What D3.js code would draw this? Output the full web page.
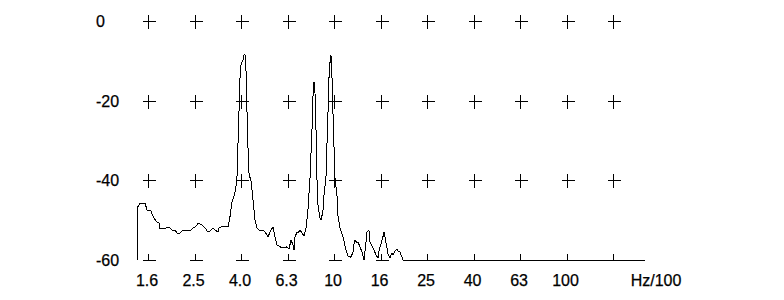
<!DOCTYPE html>
<html><head><meta charset="utf-8">
<script src="https://cdn.jsdelivr.net/npm/d3@7"></script>
<style>
body{margin:0;background:#fff}
svg{display:block;background:#fff}
text{font-family:"Liberation Sans",Arial,sans-serif;font-size:16px;fill:#000;stroke:#000;stroke-width:0.25px}
</style>
</head><body>
<svg id="chart" width="784" height="300"></svg>
<script>
// frequency in Hz/100
const freqs = [1.42,1.42,1.46,1.54,1.57,1.63,1.65,1.68,1.73,1.77,1.78,1.84,1.87,1.91,1.97,2.01,2.07,2.13,2.17,2.22,2.31,2.40,2.47,2.55,2.60,2.70,2.79,2.87,2.93,3.02,3.08,3.17,3.20,3.26,3.50,3.57,3.64,3.71,3.75,3.82,3.86,3.90,3.94,3.98,4.02,4.06,4.10,4.14,4.18,4.22,4.26,4.31,4.39,4.48,4.57,4.66,4.75,4.95,5.05,5.20,5.30,5.46,5.57,5.68,5.86,6.03,6.28,6.40,6.53,6.66,6.73,6.79,6.93,7.00,7.14,7.28,7.42,7.57,7.72,7.88,8.04,8.12,8.20,8.28,8.36,8.44,8.53,8.70,8.79,8.96,9.05,9.23,9.32,9.42,9.51,9.61,9.70,9.80,9.89,9.99,10.09,10.29,10.39,10.60,10.93,11.25,11.48,11.83,12.06,12.18,12.30,12.55,12.67,12.93,13.19,13.45,13.72,13.86,14.13,14.27,14.56,14.85,15.15,15.45,15.61,15.92,16.23,16.40,16.56,16.89,17.06,17.40,17.75,17.92,18.28,18.65,18.83,19.21,19.60,19.79,217.6];
// level in dB
const levels = [-60,-46.9,-45.9,-45.9,-47.5,-47.7,-48.5,-49.5,-50.5,-50.7,-52.0,-52.2,-52.2,-51.7,-52.0,-52.5,-52.5,-53.5,-53.2,-52.7,-52.7,-52.7,-52.0,-51.5,-50.7,-51.2,-52.0,-53.0,-52.7,-52.0,-52.5,-53.0,-52.0,-51.7,-51.7,-49.0,-45.4,-43.9,-42.9,-39.9,-31.1,-22.8,-14.3,-11.0,-10.3,-9.8,-8.5,-8.5,-12.3,-22.3,-31.1,-38.7,-39.9,-44.9,-50.0,-52.0,-52.5,-52.5,-53.0,-54.2,-53.0,-51.7,-54.2,-56.2,-56.7,-57.0,-56.7,-57.2,-55.0,-56.2,-57.5,-54.2,-53.0,-53.2,-52.5,-53.2,-54.0,-52.2,-47.5,-39.4,-26.9,-18.6,-15.3,-18.1,-26.9,-39.4,-46.2,-49.5,-50.0,-47.7,-43.7,-39.4,-31.1,-22.8,-14.3,-10.3,-8.5,-14.3,-22.8,-31.1,-39.4,-43.7,-48.7,-52.0,-54.2,-57.5,-59.0,-59.3,-58.0,-56.0,-55.0,-55.7,-55.5,-56.7,-58.0,-60.0,-55.5,-53.0,-52.5,-55.5,-56.5,-57.5,-58.7,-59.5,-57.7,-56.0,-54.2,-53.0,-54.2,-57.0,-58.5,-59.5,-58.2,-58.7,-57.7,-57.2,-57.7,-58.0,-59.3,-60.0,-60.0];

const xTickValues = [1.585,2.512,3.981,6.310,10,15.85,25.12,39.81,63.10,100,158.5];
const xTickLabels = ["1.6","2.5","4.0","6.3","10","16","25","40","63","100",""];
const yTickValues = [0,-20,-40,-60];
const yTickLabels = ["0","-20","-40","-60"];
const unitLabel = "Hz/100";

const svg = d3.select("#chart");
const x = d3.scaleLog().domain([1.42, 217.6]).range([137, 645]);
const y = d3.scaleLinear().domain([0, -60]).range([21, 260]);
const px = v => Math.round(v) + 0.5;
const arm = 6;

// grid crosses
const g = svg.append("g").attr("stroke","#000").attr("stroke-width",1).attr("shape-rendering","crispEdges");
yTickValues.forEach((yv, j) => {
  const cy = px(y(yv));
  const last = j === yTickValues.length - 1;
  xTickValues.forEach(xv => {
    const cx = px(x(xv));
    g.append("line").attr("x1", cx - arm).attr("x2", cx + arm + 1).attr("y1", cy).attr("y2", cy);
    g.append("line").attr("x1", cx).attr("x2", cx).attr("y1", cy - arm - 1).attr("y2", last ? cy : cy + arm + 1);
  });
});

// y labels
svg.append("g").selectAll("text").data(yTickValues).join("text")
  .attr("x", 96).attr("y", d => y(d) + 6)
  .text((d, i) => yTickLabels[i]);

// x labels
svg.append("g").selectAll("text").data(xTickValues).join("text")
  .attr("x", d => x(d) - 1).attr("y", 286).attr("text-anchor","middle")
  .text((d, i) => xTickLabels[i]);
svg.append("text").attr("x", 656).attr("y", 286).attr("text-anchor","middle").text(unitLabel);

// spectrum line
const pts = freqs.map((f, i) => [f, levels[i]]);
svg.append("path")
  .attr("d", d3.line().x(d => x(d[0])).y(d => y(d[1]))(pts))
  .attr("fill","none").attr("stroke","#000").attr("stroke-width",1)
  .attr("shape-rendering","crispEdges");
</script>
</body></html>
